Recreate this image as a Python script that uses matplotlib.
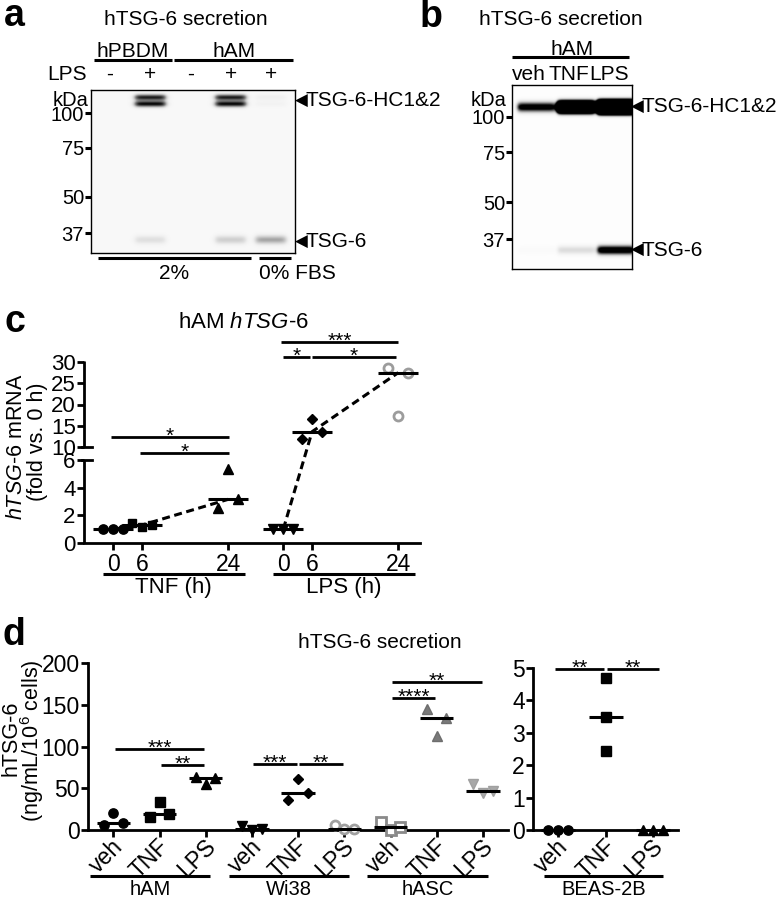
import numpy as np
import matplotlib
matplotlib.use("Agg")
import matplotlib.pyplot as plt
import matplotlib.transforms as mtransforms
from matplotlib.lines import Line2D

plt.rcParams['font.family'] = ['Liberation Sans', 'DejaVu Sans']
plt.rcParams['mathtext.fontset'] = 'custom'
plt.rcParams['mathtext.rm'] = 'Liberation Sans'
plt.rcParams['mathtext.it'] = 'Liberation Sans:italic'
plt.rcParams['mathtext.bf'] = 'Liberation Sans:bold'
plt.rcParams['axes.linewidth'] = 1.8

# ---------------- data ----------------
# panel a: western blot (band intensities per lane)
a_cells = ['hPBDM', 'hAM']
a_cell_lanes = [(0, 1), (2, 4)]
a_lps = ['-', '+', '-', '+', '+']
a_fbs = ['2%', '0% FBS']
a_fbs_lanes = [(0, 3), (4, 4)]
kda_markers = [100, 75, 50, 37]
a_hc_upper = [0.0, 0.85, 0.0, 0.85, 0.07]
a_hc_lower = [0.0, 0.92, 0.0, 0.92, 0.05]
a_tsg6 = [0.0, 0.16, 0.0, 0.24, 0.40]
a_hc_upper_kda = 114
a_hc_lower_kda = 108
a_tsg6_kda = 35

# panel b: western blot
b_treat = ['veh', 'TNF', 'LPS']
b_hc = [1.2, 8.0, 20.0]
b_tsg6 = [0.03, 0.22, 1.3]
b_hc_kda = 108.5
b_tsg6_kda = 33.8

# panel c: hTSG-6 mRNA (fold vs. 0 h)
c_times = [0, 6, 24]
c_tnf = [[1.0, 1.0, 1.0], [1.47, 1.13, 1.30], [2.5, 5.33, 3.16]]
c_lps = [[1.0, 1.0, 1.0], [12.0, 16.5, 13.6], [28.5, 17.3, 27.5]]
c_tnf_sig = [(0, 24, 12.35, '*'), (6, 24, 8.15, '*')]
c_lps_sig = [(0, 24, 34.7, '***'), (0, 6, 31.2, '*'), (6, 24, 31.2, '*')]

# panel d: hTSG-6 secretion (ng/mL/10^6 cells)
d_cells = ['hAM', 'Wi38', 'hASC']
d_treat = ['veh', 'TNF', 'LPS']
d_ham = [[5.5, 20, 8], [15, 34, 19], [63, 55, 62]]
d_wi38 = [[5, 0, 1], [36, 61, 44], [6, 1, 0.8]]
d_hasc = [[10, 0.5, 3.5], [145, 112, 134], [55, 44, 47]]
d_sig = [(0, 2, 97, '***'), (1, 2, 78, '**'), (3, 4, 78.6, '***'),
         (4, 5, 78.6, '**'), (6, 8, 177, '**'), (6, 7, 157.7, '****')]
d_beas = [[0, 0, 0], [2.45, 4.7, 3.5], [0, 0, 0]]
d_beas_sig = [(0, 1, 4.98, '**'), (1, 2, 4.98, '**')]

# ---------------- helpers ----------------
W, H = 783, 899
fig = plt.figure(figsize=(W / 100, H / 100), dpi=100)
FS = 15
TFS = 16.5


def fx(x):
    return x / W


def fy(y):
    return 1 - y / H


def add_ax(x0, y0, x1, y1):
    return fig.add_axes([fx(x0), fy(y1), (x1 - x0) / W, (y1 - y0) / H])


def ftext(x, y, s, **kw):
    kw.setdefault('fontsize', FS)
    return fig.text(fx(x), fy(y), s, **kw)


def bx(ax):
    return mtransforms.blended_transform_factory(ax.transData, fig.transFigure)


def by(ax):
    return mtransforms.blended_transform_factory(fig.transFigure, ax.transData)


def uline(ax, x0, x1, ypx, lw=2.0):
    fig.add_artist(Line2D([x0, x1], [fy(ypx), fy(ypx)], transform=bx(ax),
                          color='k', lw=lw, solid_capstyle='butt'))


def utext(ax, x, ypx, s, **kw):
    kw.setdefault('fontsize', FS)
    fig.text(x, fy(ypx), s, transform=bx(ax), **kw)


def draw_blot(ax, bands, xlim, ylim, bg, hw, edge):
    xs = np.linspace(xlim[0], xlim[1], 500)
    ys = np.linspace(ylim[0], ylim[1], 500)
    X, Y = np.meshgrid(xs, ys)
    img = np.full_like(X, bg)
    for kda, amps, sig in bands:
        yc = np.log10(kda)
        py = np.exp(-0.5 * ((Y - yc) / sig) ** 2)
        for i, a in enumerate(amps):
            px = 0.5 * (np.tanh((X - (i - hw)) / edge) - np.tanh((X - (i + hw)) / edge))
            img += a * px * py
    img = np.clip(img, 0, 1)
    ax.imshow(img, cmap='Greys', vmin=0, vmax=1, origin='lower', aspect='auto',
              extent=[xlim[0], xlim[1], ylim[0], ylim[1]], interpolation='bilinear')
    ax.set_xlim(*xlim)
    ax.set_ylim(*ylim)
    ax.set_xticks([])
    ax.set_yticks(np.log10(kda_markers))
    ax.set_yticklabels([str(k) for k in kda_markers])
    ax.tick_params(axis='y', length=4, width=2.2, labelsize=14.5, pad=1)
    for s in ax.spines.values():
        s.set_linewidth(1.0)


def arrow_label(ax, xpx, kda, s):
    fig.text(fx(xpx), np.log10(kda), '\u25C0', transform=by(ax), fontsize=12,
             family='DejaVu Sans', ha='left', va='center')
    fig.text(fx(xpx + 10), np.log10(kda), s, transform=by(ax), fontsize=FS,
             ha='left', va='center')


# ---------------- panel a ----------------
ftext(4, 26, 'a', fontsize=27, fontweight='bold', va='baseline')
ftext(186, 25, 'hTSG-6 secretion', ha='center', va='baseline')
axa = add_ax(91, 90, 295, 253)
a_lane = 40.25
draw_blot(axa,
          [(a_hc_upper_kda, a_hc_upper, 0.0078), (a_hc_lower_kda, a_hc_lower, 0.0078),
           (a_tsg6_kda, a_tsg6, 0.011)],
          ((91 - 110) / a_lane, (295 - 110) / a_lane),
          (np.log10(31.4), np.log10(121)), bg=0.055, hw=0.38, edge=0.08)
ftext(88, 106, 'kDa', ha='right', va='baseline', fontsize=14.5)
for name, (l0, l1) in zip(a_cells, a_cell_lanes):
    uline(axa, l0 - 0.4, l1 + 0.55, 60, lw=2.2)
    utext(axa, (l0 + l1) / 2 + 0.07, 57, name, ha='center', va='baseline')
ftext(87, 80, 'LPS', ha='right', va='baseline')
for i, s in enumerate(a_lps):
    utext(axa, i, 80, s, ha='center', va='baseline')
for name, (l0, l1) in zip(a_fbs, a_fbs_lanes):
    uline(axa, l0 - 0.3, l1 + 0.5, 258, lw=2.2)
    if l0 == l1:
        utext(axa, l0 - 0.3, 279, name, ha='left', va='baseline')
    else:
        utext(axa, (l0 + l1) / 2 + 0.1, 279, name, ha='center', va='baseline')
arrow_label(axa, 295, 111, 'TSG-6-HC1&2')
arrow_label(axa, 295, a_tsg6_kda - 0.6, 'TSG-6')

# ---------------- panel b ----------------
ftext(420, 27, 'b', fontsize=27, fontweight='bold', va='baseline')
ftext(561, 25, 'hTSG-6 secretion', ha='center', va='baseline')
axb = add_ax(512, 85, 632, 269)
b_lane = 40.0
draw_blot(axb,
          [(b_hc_kda, b_hc, 0.0117), (b_tsg6_kda, b_tsg6, 0.011)],
          ((512 - 536) / b_lane, (632 - 536) / b_lane),
          (np.log10(29.0), np.log10(129.7)), bg=0.012, hw=0.46, edge=0.06)
ftext(506, 106, 'kDa', ha='right', va='baseline', fontsize=14.5)
uline(axb, -0.6, 2.33, 57, lw=2.2)
utext(axb, 0.9, 55, 'hAM', ha='center', va='baseline')
for i, s in enumerate(b_treat):
    utext(axb, i - 0.17, 80, s, ha='center', va='baseline')
arrow_label(axb, 631, b_hc_kda, 'TSG-6-HC1&2')
arrow_label(axb, 631, b_tsg6_kda, 'TSG-6')

# ---------------- panel c ----------------
ftext(5, 332, 'c', fontsize=27, fontweight='bold', va='baseline')
ftext(243, 328, 'hAM $\\mathit{hTSG}$-$\\mathit{6}$', ha='center', va='baseline', fontsize=16)


def c_fwd(v):
    v = np.asarray(v, dtype=float)
    return np.where(v <= 6, v * 13.83,
                    np.where(v <= 10, 83 + (v - 6) * 3.25, 96 + (v - 10) * 4.25))


def c_inv(p):
    p = np.asarray(p, dtype=float)
    return np.where(p <= 83, p / 13.83,
                    np.where(p <= 96, 6 + (p - 83) / 3.25, 10 + (p - 96) / 4.25))


axc = add_ax(84, 362, 420, 543)
pxh = 115 / 24.0
c_off = (283.3 - 113.3) / pxh
axc.set_xlim((84 - 113.3) / pxh, (420 - 113.3) / pxh)
axc.set_yscale('function', functions=(c_fwd, c_inv))
axc.set_ylim(0, 30)
for s in ['top', 'right', 'left']:
    axc.spines[s].set_visible(False)
axc.spines['bottom'].set_linewidth(2.0)
yt = [0, 2, 4, 6, 10, 15, 20, 25, 30]
axc.set_yticks(yt)
axc.set_yticklabels([str(v) for v in yt])
axc.yaxis.set_minor_locator(matplotlib.ticker.NullLocator())
axc.tick_params(axis='y', length=5, width=2.0, labelsize=16, pad=1)
axc.tick_params(axis='x', length=5, width=2.0, labelsize=TFS, pad=2)
tl = mtransforms.blended_transform_factory(axc.transAxes, axc.transData)
axc.plot([0, 0], [0, 6], transform=tl, color='k', lw=2.0, clip_on=False,
         solid_capstyle='butt')
axc.plot([0, 0], [10, 30.3], transform=tl, color='k', lw=2.0, clip_on=False,
         solid_capstyle='butt')
for v in (6, 10):
    axc.plot([-0.005, 0.025], [v, v], transform=tl, color='k', lw=2.0, clip_on=False)

jit = 10 / pxh


def spread_x(ax, xc, vals, step):
    vals = np.asarray(vals, dtype=float)
    disp = ax.transData.transform(np.column_stack([np.full(len(vals), xc), vals]))
    if np.ptp(disp[:, 1]) < 60:
        return xc + step * (np.arange(len(vals)) - (len(vals) - 1) / 2)
    return np.full(len(vals), float(xc))


c_styles = [
    [dict(marker='o', ms=6.7, mfc='k', mec='k'), dict(marker='s', ms=6.2, mfc='k', mec='k'),
     dict(marker='^', ms=7.2, mfc='k', mec='k')],
    [dict(marker='v', ms=7.2, mfc='k', mec='k'), dict(marker='D', ms=5.3, mfc='k', mec='k'),
     dict(marker='o', ms=6.5, mfc='white', mec='#9c9c9c', mew=2.0)],
]
ticks, labels = [], []
for gi, (grp, off) in enumerate([(c_tnf, 0.0), (c_lps, c_off)]):
    meds = []
    for ti, t in enumerate(c_times):
        vals = grp[ti]
        xc = off + t
        xs = spread_x(axc, xc, vals, jit)
        axc.plot(xs, vals, ls='none', clip_on=False, zorder=3, **c_styles[gi][ti])
        m = float(np.median(vals))
        meds.append(m)
        axc.plot([xc - 20 / pxh, xc + 20 / pxh], [m, m], color='k', lw=2.2, zorder=4,
                 solid_capstyle='butt', clip_on=False)
        ticks.append(xc)
        labels.append(str(t))
    axc.plot([off + t for t in c_times], meds, color='k', lw=2.2, ls=(0, (2.6, 1.5)),
             zorder=2)
axc.set_xticks(ticks)
axc.set_xticklabels(labels)


def sig_bar(ax, x1, x2, y, lab, gap=0.0, off_pt=-3.5):
    ax.plot([x1 + gap, x2 - gap], [y, y], color='k', lw=2.0, clip_on=False,
            solid_capstyle='butt')
    ax.annotate(lab, xy=((x1 + x2) / 2, y), xytext=(0, off_pt), textcoords='offset points',
                ha='center', va='baseline', fontsize=FS, annotation_clip=False)


for t1, t2, y, lab in c_tnf_sig:
    sig_bar(axc, t1 - 0.5, t2 + 0.2, y, lab)
for t1, t2, y, lab in c_lps_sig:
    g = 0.4 if (t2 - t1) < 24 else 0.0
    sig_bar(axc, c_off + t1 - 0.5, c_off + t2, y, lab, gap=g)

for name, off in [('TNF (h)', 0.0), ('LPS (h)', c_off)]:
    uline(axc, off - 2.2, off + 27.5, 574, lw=2.2)
    utext(axc, off + 12.6, 593, name, ha='center', va='baseline', fontsize=16)

ftext(17, 447, '$\\mathit{hTSG}$-$\\mathit{6}$ mRNA', rotation=90, ha='center', va='center',
      fontsize=15.5)
ftext(38, 442, '(fold vs. 0 h)', rotation=90, ha='center', va='center', fontsize=15.5)

# ---------------- panel d ----------------
ftext(2, 645, 'd', fontsize=27, fontweight='bold', va='baseline')
ftext(380, 648, 'hTSG-6 secretion', ha='center', va='baseline')

d_styles = [
    [dict(marker='o', ms=6.7, mfc='k', mec='k'), dict(marker='s', ms=7.0, mfc='k', mec='k'),
     dict(marker='^', ms=7.8, mfc='k', mec='k')],
    [dict(marker='v', ms=7.8, mfc='k', mec='k'), dict(marker='D', ms=5.5, mfc='k', mec='k'),
     dict(marker='o', ms=6.5, mfc='white', mec='#a0a0a0', mew=2.0)],
    [dict(marker='s', ms=6.5, mfc='white', mec='#8a8a8a', mew=2.0),
     dict(marker='^', ms=7.8, mfc='#7a7a7a', mec='#6e6e6e'),
     dict(marker='v', ms=7.8, mfc='#a8a8a8', mec='#a0a0a0')],
]


def setup_d(ax, ylim, yt):
    ax.set_ylim(*ylim)
    for s in ['top', 'right']:
        ax.spines[s].set_visible(False)
    ax.spines['left'].set_linewidth(2.0)
    ax.spines['bottom'].set_linewidth(2.0)
    ax.set_yticks(yt)
    ax.tick_params(axis='y', length=5, width=2.0, labelsize=TFS, pad=1)
    ax.tick_params(axis='x', length=5, width=2.0, labelbottom=False)


def rot_labels(ax, labels):
    ax.set_xticks(range(len(labels)))
    for i, lab in enumerate(labels):
        ax.annotate(lab, xy=(i, 0), xycoords=('data', 'axes fraction'), xytext=(4.5, -9.5),
                    textcoords='offset points', rotation=45, ha='right', va='center',
                    rotation_mode='anchor', fontsize=TFS, annotation_clip=False)


axd = add_ax(88, 663, 508, 830)
d_step = 46.2
axd.set_xlim((88 - 113.3) / d_step, (508 - 113.3) / d_step)
setup_d(axd, (0, 200), [0, 50, 100, 150, 200])
for gi, grp in enumerate([d_ham, d_wi38, d_hasc]):
    for ti, vals in enumerate(grp):
        xc = gi * 3 + ti
        xs = spread_x(axd, xc, vals, 0.21)
        axd.plot(xs, vals, ls='none', clip_on=False, zorder=3, **d_styles[gi][ti])
        m = float(np.median(vals))
        axd.plot([xc - 0.36, xc + 0.36], [m, m], color='k', lw=2.2, zorder=4,
                 solid_capstyle='butt', clip_on=False)
rot_labels(axd, d_treat * 3)
for i, j, y, lab in d_sig:
    sig_bar(axd, i, j, y, lab, gap=0.03)
for gi, name in enumerate(d_cells):
    uline(axd, gi * 3 - 0.5, gi * 3 + 2.1, 876, lw=2.2)
    utext(axd, gi * 3 + 0.8, 895, name, ha='center', va='baseline', fontsize=14.5)
ftext(11, 738, 'hTSG-6', rotation=90, ha='center', va='center', fontsize=15.5)
ftext(32, 741, '(ng/mL/10$^6$ cells)', rotation=90, ha='center', va='center', fontsize=15.5)

axe = add_ax(533, 668, 678, 830)
e_step = 47.5
axe.set_xlim((533 - 558.3) / e_step, (678 - 558.3) / e_step)
setup_d(axe, (0, 5), [0, 1, 2, 3, 4, 5])
e_styles = [dict(marker='o', ms=6.7, mfc='k', mec='k'), dict(marker='s', ms=7.0, mfc='k', mec='k'),
            dict(marker='^', ms=7.8, mfc='k', mec='k')]
for ti, vals in enumerate(d_beas):
    xs = spread_x(axe, ti, vals, 0.21)
    axe.plot(xs, vals, ls='none', clip_on=False, zorder=3, **e_styles[ti])
    m = float(np.median(vals))
    axe.plot([ti - 0.36, ti + 0.36], [m, m], color='k', lw=2.2, zorder=4,
             solid_capstyle='butt', clip_on=False)
rot_labels(axe, d_treat)
for i, j, y, lab in d_beas_sig:
    sig_bar(axe, i - 0.1 if i == 0 else i, j + 0.15 if j == 2 else j, y, lab, gap=0.03)
uline(axe, -0.3, 2.2, 876, lw=2.2)
utext(axe, 0.95, 895, 'BEAS-2B', ha='center', va='baseline', fontsize=14.5)

fig.savefig('out.png', dpi=100)
